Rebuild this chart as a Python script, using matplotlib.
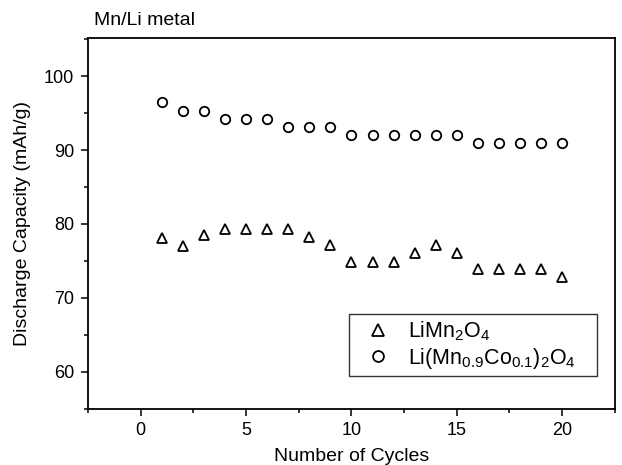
import matplotlib
matplotlib.use("Agg")
import matplotlib.pyplot as plt
from matplotlib.ticker import MultipleLocator

plt.rcParams['font.family'] = ['Liberation Sans', 'DejaVu Sans']
plt.rcParams['mathtext.fontset'] = 'custom'
plt.rcParams['mathtext.rm'] = 'Liberation Sans'
plt.rcParams['mathtext.it'] = 'Liberation Sans'

cycles = list(range(1, 21))
limn2o4 = [78.1, 77.0, 78.5, 79.3, 79.3, 79.3, 79.3, 78.2, 77.1, 74.9,
           74.9, 74.9, 76.1, 77.1, 76.1, 73.9, 73.9, 73.9, 73.9, 72.8]
limnco = [96.5, 95.3, 95.3, 94.2, 94.2, 94.2, 93.1, 93.1, 93.1, 92.0,
          92.0, 92.0, 92.0, 92.0, 92.0, 91.0, 91.0, 91.0, 91.0, 91.0]

fig = plt.figure(figsize=(6.22, 4.65), dpi=100)
ax = fig.add_axes([0.1415, 0.1215, 0.847, 0.797])

ax.plot(cycles, limn2o4, linestyle='none', marker='^', markersize=7,
        markerfacecolor='none', markeredgecolor='black', markeredgewidth=1.3,
        label=r'LiMn$_2$O$_4$')
ax.plot(cycles, limnco, linestyle='none', marker='o', markersize=6.8,
        markerfacecolor='none', markeredgecolor='black', markeredgewidth=1.3,
        label=r'Li(Mn$_{0.9}$Co$_{0.1}$)$_2$O$_4$')

ax.set_xlim(-2.5, 22.5)
ax.set_ylim(55, 105.2)
ax.xaxis.set_major_locator(MultipleLocator(5))
ax.xaxis.set_minor_locator(MultipleLocator(2.5))
ax.set_yticks([60, 70, 80, 90, 100])
ax.yaxis.set_minor_locator(MultipleLocator(5))
ax.tick_params(which='major', direction='out', length=5, width=1.1,
               labelsize=13, pad=5)
ax.tick_params(which='minor', direction='out', length=3, width=1.1)
for s in ax.spines.values():
    s.set_linewidth(1.3)

ax.set_xlabel('Number of Cycles', fontsize=14, labelpad=6)
ax.set_ylabel('Discharge Capacity (mAh/g)', fontsize=14, labelpad=9)
fig.text(0.151, 0.955, 'Mn/Li metal', fontsize=14, ha='left', va='center')

leg = ax.legend(loc='lower left', bbox_to_anchor=(0.495, 0.0877, 0.471, 0.2),
                mode='expand', fontsize=15.5,
                frameon=True, fancybox=False, edgecolor='black',
                handletextpad=0.3, borderpad=0.25, labelspacing=0.1,
                handlelength=2.2, borderaxespad=0, markerscale=1.15)
leg.get_frame().set_linewidth(1.0)

fig.savefig('out.png', dpi=100)
